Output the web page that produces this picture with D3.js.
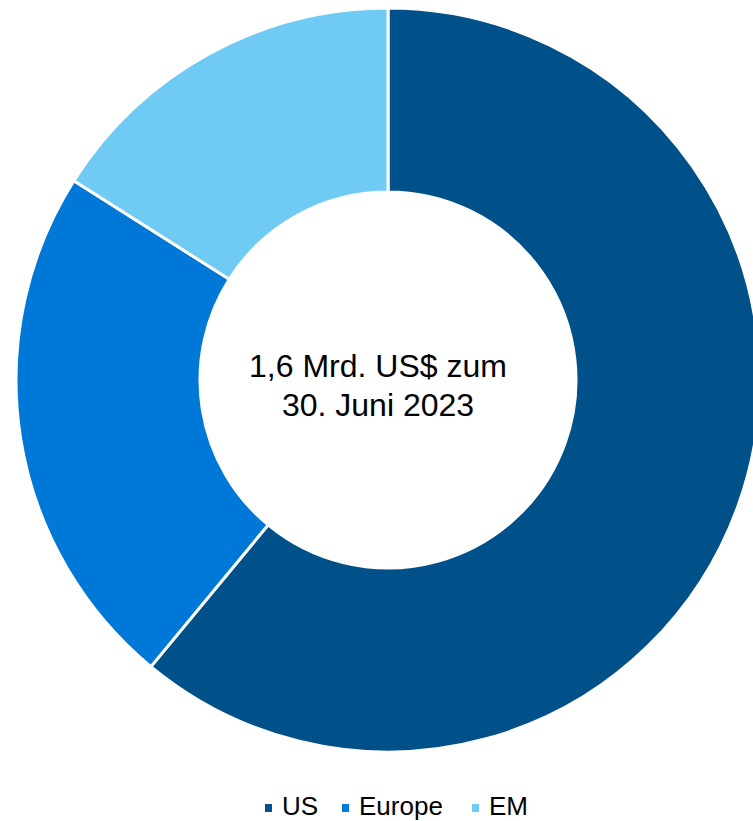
<!DOCTYPE html>
<html>
<head>
<meta charset="utf-8">
<script src="https://cdn.jsdelivr.net/npm/d3@7"></script>
<style>
  body { margin: 0; background: #fff; }
  svg { display: block; font-family: "Liberation Sans", Arial, sans-serif; }
</style>
</head>
<body>
<svg width="753" height="821"></svg>
<script>
const regions = ["US", "Europe", "EM"];
const shares = [61, 23, 16];
const colors = ["#00508a", "#0078d7", "#6fcbf3"];
const centerLines = ["1,6 Mrd. US$ zum", "30. Juni 2023"];

const svg = d3.select("svg");
const cx = 388, cy = 380;
const outerR = 372, innerR = 188;

const color = d3.scaleOrdinal().domain(regions).range(colors);

const pie = d3.pie().sort(null).value(d => d.value);
const arc = d3.arc().innerRadius(innerR).outerRadius(outerR);

const data = regions.map((r, i) => ({ name: r, value: shares[i] }));

const g = svg.append("g").attr("transform", `translate(${cx},${cy})`);

g.selectAll("path")
  .data(pie(data))
  .enter().append("path")
  .attr("d", arc)
  .attr("fill", d => color(d.data.name))
  .attr("stroke", "#fff")
  .attr("stroke-width", 3);

// centre label
svg.append("text")
  .attr("y", 377)
  .attr("text-anchor", "middle")
  .attr("font-size", 32)
  .selectAll("tspan")
  .data(centerLines)
  .enter().append("tspan")
  .attr("x", 378)
  .attr("dy", (d, i) => i === 0 ? 0 : 39)
  .text(d => d);

// legend
const legendPos = [265, 342, 472];
const item = svg.append("g").selectAll("g")
  .data(regions)
  .enter().append("g")
  .attr("transform", (d, i) => `translate(${legendPos[i]},0)`);

item.append("rect")
  .attr("y", 804)
  .attr("width", 7)
  .attr("height", 8)
  .attr("fill", d => color(d));

item.append("text")
  .attr("x", 17)
  .attr("y", 815)
  .attr("font-size", 26)
  .attr("fill", "#000")
  .text(d => d);
</script>
</body>
</html>
